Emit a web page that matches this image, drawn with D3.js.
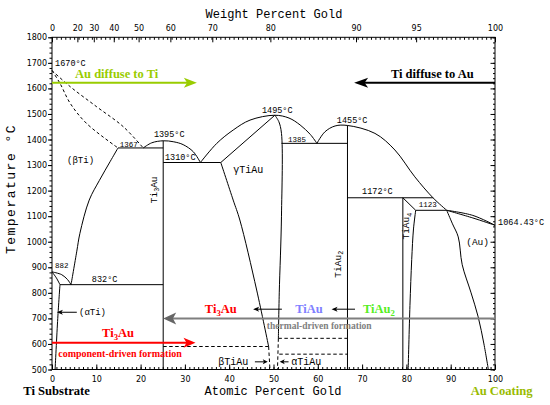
<!DOCTYPE html>
<html>
<head>
<meta charset="utf-8">
<script src="https://cdn.jsdelivr.net/npm/d3@7"></script>
<style>
body { margin: 0; background: #fff; }
</style>
</head>
<body>
<div id="chart"></div>
<script>
var margin = { top: 37.3, right: 55, bottom: 35.5, left: 52 }
var width = 550 - margin.left - margin.right
var height = 405 - margin.top - margin.bottom

// tick values
var tempTicks = d3.range(500, 1801, 100)
var atTicks = d3.range(0, 101, 10)
var wtTicks = [0, 20, 30, 40, 50, 60, 70, 80, 90, 95, 100]

// phase boundaries, [atomic % Au, temperature C]
var liquidusTi = [[0, 1670], [4.1, 1607], [10.1, 1528], [16.1, 1450], [20.6, 1367]]
var solidusTi = [[0, 1670], [1.8, 1620], [4.1, 1542], [7.8, 1463], [14.9, 1367]]
var betaTi = [[14.9, 1367], [13.1, 1313], [10.7, 1240], [8.4, 1163], [6.3, 1033], [5.6, 963], [4.3, 832]]
var betaLow = [[0, 882], [2.2, 871], [3.5, 852], [4.3, 832]]
var alphaUp = [[0, 882], [1, 858], [1.8, 832]]
var alphaSolvus = [[1.8, 832], [1.3, 700], [0.7, 500]]
var ti3AuDome = [[20.6, 1367], [22.5, 1387], [25.1, 1395], [27.5, 1391], [29.6, 1380], [31.9, 1352], [33.5, 1310]]
var gammaLiq = [[33.5, 1310], [37.2, 1385], [40.9, 1437], [44.7, 1476], [50.3, 1495], [53.5, 1484], [56, 1457], [58.3, 1420], [59.8, 1385]]
var gammaSol = [[38.1, 1310], [50.3, 1495]]
var tiAuLeft = [[38.1, 1310], [40.9, 1163], [42.4, 1085], [46.2, 811], [48.9, 590]]
var tiAuRight = [[50.3, 1495], [51.2, 1470], [51.8, 1424], [51.8, 1100], [51.3, 800], [51.1, 622]]
var tiAu2Liq = [[59.8, 1385], [61.6, 1430], [63.9, 1453], [66.7, 1455], [72.9, 1424], [77.4, 1359], [81.9, 1254], [86, 1172], [89.1, 1123]]
var tiAu4Right = [[82.1, 1123], [81.6, 1050], [81.2, 930], [80.8, 750], [80.4, 500]]
var auLiq = [[89.1, 1123], [95, 1103], [100, 1064.43]]
var auSol = [[89.1, 1123], [95, 1093], [100, 1064.43]]
var auSolvus = [[89.1, 1123], [90.4, 1070], [91.7, 1019], [92.6, 910], [94.6, 800], [96.2, 706], [97.5, 600], [98.5, 500]]

var iso1367 = [[14.9, 1367], [25.1, 1367]]
var iso1310 = [[25.1, 1310], [38.1, 1310]]
var iso1385 = [[51.8, 1385], [66.7, 1385]]
var iso1172 = [[66.7, 1172], [86, 1172]]
var iso1123 = [[82.1, 1123], [89.1, 1123]]
var iso832 = [[1.8, 832], [25.1, 832]]
var ti3AuLine = [[25.1, 1395], [25.1, 500]]
var tiAu2Line = [[66.7, 1455], [66.7, 500]]
var tiAu4Left = [[79.2, 1172], [79.2, 500]]
var peritectoid = [[79.2, 1172], [82.1, 1123]]

var iso590 = [[25.1, 590], [48.9, 590]]
var iso622 = [[51.1, 622], [66.7, 622]]
var iso560 = [[51.3, 560], [66.7, 560]]
var betaTiAuDash = [[48.9, 590], [49.2, 500]]
var alphaTiAuDash = [[51.1, 622], [50.9, 500]]

var smoothCurves = [betaTi, betaLow, alphaUp, alphaSolvus, ti3AuDome, gammaLiq, tiAuLeft, tiAuRight,
                    tiAu2Liq, tiAu4Right, auLiq, auSol, auSolvus]
var dashedCurves = [liquidusTi, solidusTi]
var straightLines = [iso1367, iso1310, iso1385, iso1172, iso1123, iso832, ti3AuLine, tiAu2Line,
                     tiAu4Left, peritectoid, gammaSol]
var dashedLines = [iso590, iso622, iso560, betaTiAuDash, alphaTiAuDash]

// weight % -> atomic % for the top axis
function wtToAt(w) {
    if (w >= 100) return 100
    var nAu = w / 196.967, nTi = (100 - w) / 47.867
    return 100 * nAu / (nAu + nTi)
}

var x = d3.scaleLinear().domain([0, 100]).range([0, width])
var y = d3.scaleLinear().domain([500, 1800]).range([height, 0])

var svg = d3.select("#chart").append("svg")
    .attr("width", 550)
    .attr("height", 405)
var g = svg.append("g")
    .attr("transform", "translate(" + margin.left + "," + margin.top + ")")

var smoothLine = d3.line()
    .x(function (d) { return x(d[0]) })
    .y(function (d) { return y(d[1]) })
    .curve(d3.curveCatmullRom.alpha(0.5))
var flatLine = d3.line()
    .x(function (d) { return x(d[0]) })
    .y(function (d) { return y(d[1]) })

function drawPaths(list, gen, dash) {
    g.selectAll(null)
        .data(list)
        .enter().append("path")
        .attr("d", gen)
        .attr("fill", "none")
        .attr("stroke", "#000")
        .attr("stroke-width", 1)
        .attr("stroke-dasharray", dash)
}
drawPaths(smoothCurves, smoothLine, null)
drawPaths(straightLines, flatLine, null)
drawPaths(dashedCurves, smoothLine, "3,2.5")
drawPaths(dashedLines, flatLine, "3.5,2.5")

// axes
var plain = d3.format("d")
function styleAxis(sel) {
    sel.select(".domain").remove()
    sel.selectAll("line").attr("stroke", "#000")
    sel.selectAll("text").attr("font-family", "DejaVu Sans").attr("font-size", 8).attr("fill", "#000")
}
g.append("g").attr("transform", "translate(0," + height + ")")
    .call(d3.axisBottom(x).tickValues(d3.range(0, 101, 1)).tickSize(-2.5).tickFormat(""))
    .call(styleAxis)
g.append("g").attr("transform", "translate(0," + height + ")")
    .call(d3.axisBottom(x).tickValues(atTicks).tickFormat(plain).tickSizeInner(-5).tickSizeOuter(0).tickPadding(6.5))
    .call(styleAxis)
g.append("g")
    .call(d3.axisTop(x).tickValues(d3.range(0, 101, 1)).tickSize(-2.5).tickFormat(""))
    .call(styleAxis)
g.append("g")
    .call(d3.axisTop(x).tickValues(wtTicks.map(wtToAt))
        .tickFormat(function (d, i) { return wtTicks[i] })
        .tickSizeInner(-5).tickSizeOuter(0).tickPadding(6))
    .call(styleAxis)
g.append("g")
    .call(d3.axisLeft(y).tickValues(d3.range(500, 1801, 20)).tickSize(2.5).tickFormat(""))
    .call(styleAxis)
g.append("g")
    .call(d3.axisLeft(y).tickValues(tempTicks).tickFormat(plain).tickSize(4).tickPadding(1))
    .call(styleAxis)
g.append("g").attr("transform", "translate(" + width + ",0)")
    .call(d3.axisRight(y).tickValues(d3.range(500, 1801, 20)).tickSize(-2).tickFormat(""))
    .call(styleAxis)
g.append("g").attr("transform", "translate(" + width + ",0)")
    .call(d3.axisRight(y).tickValues(tempTicks).tickSize(-4.5).tickFormat(""))
    .call(styleAxis)

g.append("rect")
    .attr("width", width).attr("height", height)
    .attr("fill", "none").attr("stroke", "#000").attr("stroke-width", 1)

// axis titles
var mono = "Liberation Mono"
svg.append("text").attr("x", 274).attr("y", 18).attr("text-anchor", "middle")
    .attr("font-family", mono).attr("font-size", 12).text("Weight Percent Gold")
svg.append("text").attr("x", 273).attr("y", 395).attr("text-anchor", "middle")
    .attr("font-family", mono).attr("font-size", 12).text("Atomic Percent Gold")
svg.append("text").attr("transform", "translate(15,189) rotate(-90)").attr("text-anchor", "middle")
    .attr("font-family", mono).attr("font-size", 13).attr("letter-spacing", 1.5).text("Temperature °C")

// text helper: digits become subscripts when sub is set
function addText(str, at, T, o) {
    var px = x(at), py = y(T)
    var t = g.append("text")
        .attr("x", px).attr("y", py)
        .attr("font-family", o.font || mono)
        .attr("font-size", o.size)
        .attr("fill", o.color || "#000")
        .attr("font-weight", o.bold ? "bold" : null)
        .attr("text-anchor", o.anchor || "start")
    if (o.rotate) t.attr("transform", "rotate(-90," + px + "," + py + ")")
    if (!o.sub) { t.text(str); return }
    var down = false
    str.split(/(\d)/).forEach(function (p) {
        if (p === "") return
        if (/^\d$/.test(p)) {
            t.append("tspan").attr("font-size", o.size * 0.7).attr("dy", o.size * 0.25).text(p)
            down = true
        } else {
            t.append("tspan").attr("dy", down ? -o.size * 0.25 : 0).text(p)
            down = false
        }
    })
}

// phase and temperature labels
var phaseLabels = [
    ["1670°C", 0.7, 1686, 8.5], ["1395°C", 23.0, 1410, 8.5], ["1367", 15.3, 1371, 7.5],
    ["1310°C", 25.5, 1318, 8.5], ["(βTi)", 3.4, 1307, 9], ["γTiAu", 40.9, 1270, 10],
    ["1495°C", 47.4, 1502, 8.5], ["1385", 53.3, 1391, 7.5], ["1455°C", 64.3, 1463, 8.5],
    ["1172°C", 70.0, 1185, 8.5], ["1123", 82.8, 1134, 7.5], ["(Au)", 93.5, 987, 9.5],
    ["1064.43°C", 100.7, 1065, 8.5], ["882", 0.7, 896, 7.5], ["832°C", 9.0, 843, 8.5],
    ["(αTi)", 6.1, 713, 9], ["βTiAu", 37.5, 517, 10], ["αTiAu", 54.0, 517, 10]
]
phaseLabels.forEach(function (l) { addText(l[0], l[1], l[2], { size: l[3] }) })

var compoundLabels = [["Ti3Au", 23.6, 1203], ["TiAu2", 65.2, 912], ["TiAu4", 80.7, 1061]]
compoundLabels.forEach(function (l) {
    addText(l[0], l[1], l[2], { size: 9.5, rotate: true, anchor: "middle", sub: true })
})

// annotations
var serif = "Liberation Serif"
var notes = [
    ["Au diffuse to Ti", 5.2, 1639, 12.5, "#99cc00"],
    ["Ti diffuse to Au", 76.5, 1641, 12.5, "#000"],
    ["Ti3Au", 34.5, 721, 12.5, "#ff0000"],
    ["TiAu", 54.9, 721, 12.5, "#8080ff"],
    ["TiAu2", 70.2, 721, 12.5, "#55ee22"],
    ["thermal-driven formation", 48.5, 658, 9.5, "#808080"],
    ["Ti3Au", 11.3, 627, 12.5, "#ff0000"],
    ["component-driven formation", 1.4, 550, 10, "#ff0000"],
    ["Ti Substrate", -6.5, 402, 12.6, "#000"],
    ["Au Coating", 94.5, 402, 12.6, "#99bb00"]
]
notes.forEach(function (n) {
    addText(n[0], n[1], n[2], { size: n[3], color: n[4], font: serif, bold: true, sub: true })
})

var arrows = [
    { from: [0, 1622], to: [32.7, 1622], color: "#99cc00", w: 2, head: [13, 5] },
    { from: [100, 1622], to: [68.2, 1622], color: "#000", w: 2, head: [14, 5] },
    { from: [100, 700], to: [25.1, 700], color: "#7f7f7f", w: 2, head: [13, 6], headColor: "#666" },
    { from: [0, 605], to: [32.4, 605], color: "#ff0000", w: 2, head: [12, 5] },
    { from: [51.9, 736], to: [45.4, 736], color: "#000", w: 1, head: [6, 2.5] },
    { from: [68.4, 736], to: [63.1, 736], color: "#000", w: 1, head: [6, 2.5] },
    { from: [5.6, 724], to: [1.1, 724], color: "#000", w: 1, head: [6, 2.5] },
    { from: [45.8, 530], to: [48.7, 530], color: "#000", w: 1, head: [5, 2.5] },
    { from: [53.4, 530], to: [51.4, 530], color: "#000", w: 1, head: [5, 2.5] }
]
arrows.forEach(function (a) {
    var x1 = x(a.from[0]), y1 = y(a.from[1]), x2 = x(a.to[0]), y2 = y(a.to[1])
    var dir = x2 > x1 ? 1 : -1
    var hl = a.head[0], hw = a.head[1]
    g.append("line")
        .attr("x1", x1).attr("y1", y1).attr("x2", x2 - dir * hl * 0.6).attr("y2", y2)
        .attr("stroke", a.color).attr("stroke-width", a.w)
    g.append("path")
        .attr("d", "M" + x2 + "," + y2 + "L" + (x2 - dir * hl) + "," + (y2 - hw) +
              "L" + (x2 - dir * hl * 0.75) + "," + y2 + "L" + (x2 - dir * hl) + "," + (y2 + hw) + "Z")
        .attr("fill", a.headColor || a.color)
})
</script>
</body>
</html>
